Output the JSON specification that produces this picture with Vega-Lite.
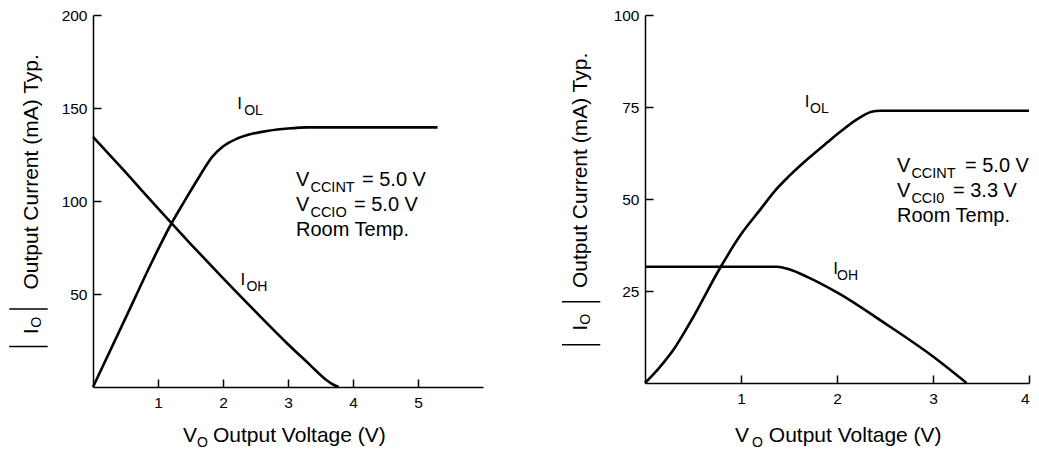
{
  "$schema": "https://vega.github.io/schema/vega-lite/v6.json",
  "autosize": {"type": "pad"},
  "padding": {"left": 8, "top": 8, "right": 5, "bottom": 0},
  "spacing": 78,
  "config": {
    "view": {"stroke": null},
    "axis": {
      "domainColor": "black", "domainWidth": 1.5,
      "tickColor": "black", "tickWidth": 1.5, "tickSize": -8,
      "labelColor": "black", "labelFont": "Liberation Sans", "labelFontSize": 15.5,
      "grid": false
    },
    "axisX": {"labelPadding": 16},
    "axisY": {"labelPadding": 14},
    "text": {"color": "black", "font": "Liberation Sans", "align": "left", "baseline": "alphabetic"},
    "rule": {"color": "black"},
    "line": {"color": "black"}
  },
  "datasets": {
    "left_curves": [
      {"series": "IOL", "V": 0, "I": 0},
      {"series": "IOL", "V": 0.5, "I": 37},
      {"series": "IOL", "V": 0.91, "I": 67.5},
      {"series": "IOL", "V": 1.2, "I": 87.5},
      {"series": "IOL", "V": 1.4, "I": 99.5},
      {"series": "IOL", "V": 1.63, "I": 112.8},
      {"series": "IOL", "V": 1.84, "I": 124},
      {"series": "IOL", "V": 2.0, "I": 129.3},
      {"series": "IOL", "V": 2.2, "I": 133.3},
      {"series": "IOL", "V": 2.4, "I": 135.7},
      {"series": "IOL", "V": 2.7, "I": 137.8},
      {"series": "IOL", "V": 3.0, "I": 139},
      {"series": "IOL", "V": 3.3, "I": 139.6},
      {"series": "IOL", "V": 5.3, "I": 139.6},
      {"series": "IOH", "V": 0, "I": 134.5},
      {"series": "IOH", "V": 0.5, "I": 115.5},
      {"series": "IOH", "V": 1.0, "I": 96},
      {"series": "IOH", "V": 1.5, "I": 77},
      {"series": "IOH", "V": 2.0, "I": 58.5},
      {"series": "IOH", "V": 2.5, "I": 40.5},
      {"series": "IOH", "V": 3.0, "I": 23},
      {"series": "IOH", "V": 3.35, "I": 11.5},
      {"series": "IOH", "V": 3.5, "I": 6.5},
      {"series": "IOH", "V": 3.6, "I": 3.5},
      {"series": "IOH", "V": 3.7, "I": 1.2},
      {"series": "IOH", "V": 3.78, "I": 0}
    ],
    "right_curves": [
      {"series": "IOL", "V": 0, "I": 0},
      {"series": "IOL", "V": 0.15, "I": 4.2},
      {"series": "IOL", "V": 0.316, "I": 9.8},
      {"series": "IOL", "V": 0.5, "I": 17.8},
      {"series": "IOL", "V": 0.77, "I": 30.7},
      {"series": "IOL", "V": 1.0, "I": 40.4},
      {"series": "IOL", "V": 1.2, "I": 47.1},
      {"series": "IOL", "V": 1.36, "I": 52.4},
      {"series": "IOL", "V": 1.5, "I": 56.2},
      {"series": "IOL", "V": 1.7, "I": 61},
      {"series": "IOL", "V": 1.9, "I": 65.4},
      {"series": "IOL", "V": 2.05, "I": 68.6},
      {"series": "IOL", "V": 2.2, "I": 71.5},
      {"series": "IOL", "V": 2.36, "I": 73.7},
      {"series": "IOL", "V": 2.45, "I": 74},
      {"series": "IOL", "V": 4.0, "I": 74},
      {"series": "IOH", "V": 0, "I": 31.6},
      {"series": "IOH", "V": 1.375, "I": 31.6},
      {"series": "IOH", "V": 1.5, "I": 30.9},
      {"series": "IOH", "V": 1.7, "I": 28.7},
      {"series": "IOH", "V": 2.0, "I": 24.6},
      {"series": "IOH", "V": 2.5, "I": 16.2},
      {"series": "IOH", "V": 3.0, "I": 7.2},
      {"series": "IOH", "V": 3.35, "I": 0}
    ],
    "left_bars": [
      {"V": -1.288, "V2": -0.697, "I": 42.0},
      {"V": -1.288, "V2": -0.697, "I": 21.8}
    ],
    "right_bars": [
      {"V": -0.865, "V2": -0.466, "I": 22.1},
      {"V": -0.865, "V2": -0.466, "I": 10.4}
    ],
    "left_texts": [
      {"role": "ymain", "V": -0.846, "I": 52.4, "text": "Output Current (mA) Typ."},
      {"role": "ymain", "V": -0.846, "I": 28.3, "text": "I"},
      {"role": "ysub", "V": -0.846, "I": 31.8, "text": "O"},
      {"role": "xmain", "V": 1.385, "I": -29.7, "text": "V"},
      {"role": "xmain", "V": 1.846, "I": -29.7, "text": "Output Voltage (V)"},
      {"role": "xsub", "V": 1.6, "I": -29.7, "text": "O"},
      {"role": "lab", "V": 2.22, "I": 149.7, "text": "I"},
      {"role": "lab", "V": 2.27, "I": 55.1, "text": "I"},
      {"role": "labsub", "V": 2.325, "I": 149.7, "text": "OL"},
      {"role": "labsub", "V": 2.36, "I": 55.1, "text": "OH"},
      {"role": "ann", "V": 3.123, "I": 108.3, "text": "V"},
      {"role": "ann", "V": 4.138, "I": 108.3, "text": "= 5.0 V"},
      {"role": "ann", "V": 3.123, "I": 94.7, "text": "V"},
      {"role": "ann", "V": 4.015, "I": 94.7, "text": "= 5.0 V"},
      {"role": "ann", "V": 3.123, "I": 81.1, "text": "Room Temp."},
      {"role": "annsub", "V": 3.345, "I": 108.3, "text": "CCINT"},
      {"role": "annsub", "V": 3.345, "I": 94.7, "text": "CCIO"}
    ],
    "right_texts": [
      {"role": "ymain", "V": -0.604, "I": 25.8, "text": "Output Current (mA) Typ."},
      {"role": "ymain", "V": -0.604, "I": 14.2, "text": "I"},
      {"role": "ysub", "V": -0.604, "I": 15.8, "text": "O"},
      {"role": "xmain", "V": 0.9375, "I": -15.9, "text": "V"},
      {"role": "xmain", "V": 1.29, "I": -15.9, "text": "Output Voltage (V)"},
      {"role": "xsub", "V": 1.115, "I": -15.9, "text": "O"},
      {"role": "lab", "V": 1.665, "I": 75.1, "text": "I"},
      {"role": "lab", "V": 1.96, "I": 29.6, "text": "I"},
      {"role": "labsub", "V": 1.72, "I": 75.1, "text": "OL"},
      {"role": "labsub", "V": 2.0, "I": 29.6, "text": "OH"},
      {"role": "ann", "V": 2.625, "I": 57.3, "text": "V"},
      {"role": "ann", "V": 3.333, "I": 57.3, "text": "= 5.0 V"},
      {"role": "ann", "V": 2.625, "I": 50.6, "text": "V"},
      {"role": "ann", "V": 3.208, "I": 50.6, "text": "= 3.3 V"},
      {"role": "ann", "V": 2.625, "I": 43.8, "text": "Room Temp."},
      {"role": "annsub", "V": 2.775, "I": 57.3, "text": "CCINT"},
      {"role": "annsub", "V": 2.775, "I": 50.6, "text": "CCI0"}
    ]
  },
  "hconcat": [
    {
      "width": 390,
      "height": 372,
      "encoding": {
        "x": {"field": "V", "type": "quantitative", "scale": {"domain": [0, 6], "nice": false, "zero": false}, "axis": {"values": [1, 2, 3, 4, 5], "title": null}},
        "y": {"field": "I", "type": "quantitative", "scale": {"domain": [0, 200], "nice": false}, "axis": {"values": [50, 100, 150, 200], "title": null}}
      },
      "layer": [
        {"data": {"name": "left_curves"}, "mark": {"type": "line", "strokeWidth": 2.6, "interpolate": "monotone"}, "encoding": {"detail": {"field": "series"}}},
        {"data": {"name": "left_bars"}, "mark": {"type": "rule", "strokeWidth": 1.5}, "encoding": {"x2": {"field": "V2"}}},
        {"data": {"name": "left_texts"}, "transform": [{"filter": "datum.role === 'ymain'"}], "mark": {"type": "text", "angle": 270, "fontSize": 21}, "encoding": {"text": {"field": "text"}}},
        {"data": {"name": "left_texts"}, "transform": [{"filter": "datum.role === 'ysub'"}], "mark": {"type": "text", "angle": 270, "fontSize": 14, "dy": 3}, "encoding": {"text": {"field": "text"}}},
        {"data": {"name": "left_texts"}, "transform": [{"filter": "datum.role === 'xmain'"}], "mark": {"type": "text", "fontSize": 21}, "encoding": {"text": {"field": "text"}}},
        {"data": {"name": "left_texts"}, "transform": [{"filter": "datum.role === 'xsub'"}], "mark": {"type": "text", "fontSize": 14, "dy": 5}, "encoding": {"text": {"field": "text"}}},
        {"data": {"name": "left_texts"}, "transform": [{"filter": "datum.role === 'lab'"}], "mark": {"type": "text", "fontSize": 17}, "encoding": {"text": {"field": "text"}}},
        {"data": {"name": "left_texts"}, "transform": [{"filter": "datum.role === 'labsub'"}], "mark": {"type": "text", "fontSize": 14, "dy": 6}, "encoding": {"text": {"field": "text"}}},
        {"data": {"name": "left_texts"}, "transform": [{"filter": "datum.role === 'ann'"}], "mark": {"type": "text", "fontSize": 20}, "encoding": {"text": {"field": "text"}}},
        {"data": {"name": "left_texts"}, "transform": [{"filter": "datum.role === 'annsub'"}], "mark": {"type": "text", "fontSize": 14.5, "dy": 6}, "encoding": {"text": {"field": "text"}}}
      ]
    },
    {
      "width": 384,
      "height": 368,
      "encoding": {
        "x": {"field": "V", "type": "quantitative", "scale": {"domain": [0, 4], "nice": false, "zero": false}, "axis": {"values": [1, 2, 3, 4], "title": null}},
        "y": {"field": "I", "type": "quantitative", "scale": {"domain": [0, 100], "nice": false}, "axis": {"values": [25, 50, 75, 100], "title": null}}
      },
      "layer": [
        {"data": {"name": "right_curves"}, "mark": {"type": "line", "strokeWidth": 2.6, "interpolate": "monotone"}, "encoding": {"detail": {"field": "series"}}},
        {"data": {"name": "right_bars"}, "mark": {"type": "rule", "strokeWidth": 1.5}, "encoding": {"x2": {"field": "V2"}}},
        {"data": {"name": "right_texts"}, "transform": [{"filter": "datum.role === 'ymain'"}], "mark": {"type": "text", "angle": 270, "fontSize": 21}, "encoding": {"text": {"field": "text"}}},
        {"data": {"name": "right_texts"}, "transform": [{"filter": "datum.role === 'ysub'"}], "mark": {"type": "text", "angle": 270, "fontSize": 14, "dy": 3}, "encoding": {"text": {"field": "text"}}},
        {"data": {"name": "right_texts"}, "transform": [{"filter": "datum.role === 'xmain'"}], "mark": {"type": "text", "fontSize": 21}, "encoding": {"text": {"field": "text"}}},
        {"data": {"name": "right_texts"}, "transform": [{"filter": "datum.role === 'xsub'"}], "mark": {"type": "text", "fontSize": 14, "dy": 5}, "encoding": {"text": {"field": "text"}}},
        {"data": {"name": "right_texts"}, "transform": [{"filter": "datum.role === 'lab'"}], "mark": {"type": "text", "fontSize": 17}, "encoding": {"text": {"field": "text"}}},
        {"data": {"name": "right_texts"}, "transform": [{"filter": "datum.role === 'labsub'"}], "mark": {"type": "text", "fontSize": 14, "dy": 6}, "encoding": {"text": {"field": "text"}}},
        {"data": {"name": "right_texts"}, "transform": [{"filter": "datum.role === 'ann'"}], "mark": {"type": "text", "fontSize": 20}, "encoding": {"text": {"field": "text"}}},
        {"data": {"name": "right_texts"}, "transform": [{"filter": "datum.role === 'annsub'"}], "mark": {"type": "text", "fontSize": 14.5, "dy": 6}, "encoding": {"text": {"field": "text"}}}
      ]
    }
  ]
}
